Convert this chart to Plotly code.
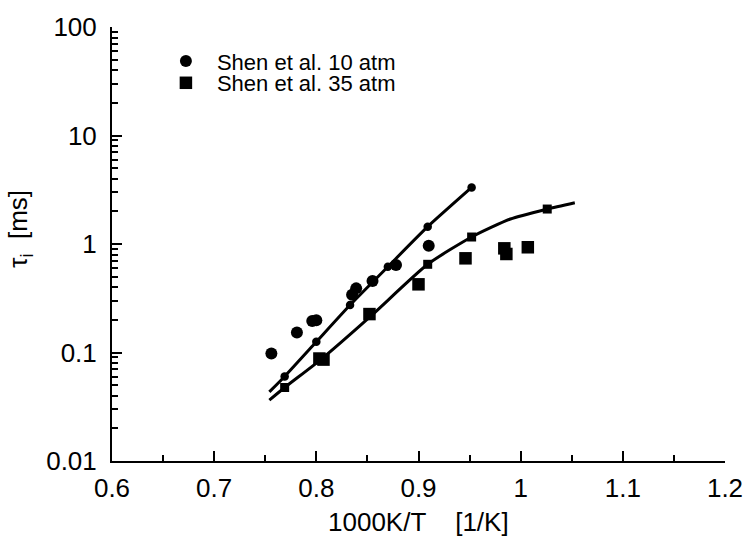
import plotly.graph_objects as go

# ---- data ----
# Shen et al. 10 atm (experimental, large circles)
shen10_x = [0.756, 0.781, 0.796, 0.800, 0.835, 0.839, 0.855, 0.878, 0.910]
shen10_y = [0.098, 0.153, 0.195, 0.198, 0.34, 0.39, 0.456, 0.64, 0.965]

# Shen et al. 35 atm (experimental, large squares)
shen35_x = [0.803, 0.807, 0.852, 0.900, 0.946, 0.984, 0.986, 1.007]
shen35_y = [0.088, 0.086, 0.226, 0.425, 0.738, 0.912, 0.809, 0.933]

# model curve, 10 atm
model10_x = [0.754, 0.769, 0.800, 0.833, 0.870, 0.909, 0.952]
model10_y = [0.0434, 0.0602, 0.1255, 0.274, 0.617, 1.444, 3.32]
# model points shown with small circles
model10_pts_x = [0.769, 0.800, 0.833, 0.870, 0.909, 0.952]
model10_pts_y = [0.0602, 0.1255, 0.274, 0.617, 1.444, 3.32]

# model curve, 35 atm
model35_x = [0.754, 0.769, 0.805, 0.853, 0.909, 0.952, 0.990, 1.026, 1.053]
model35_y = [0.0364, 0.0476, 0.087, 0.215, 0.650, 1.16, 1.70, 2.10, 2.40]
model35_pts_x = [0.769, 0.909, 0.952, 1.026]
model35_pts_y = [0.0476, 0.650, 1.16, 2.10]

x_ticks = [0.6, 0.7, 0.8, 0.9, 1.0, 1.1, 1.2]
x_ticktext = ["0.6", "0.7", "0.8", "0.9", "1", "1.1", "1.2"]
y_ticks = [0.01, 0.1, 1, 10, 100]
y_ticktext = ["0.01", "0.1", "1", "10", "100"]

FONT = "Arial, 'Liberation Sans', sans-serif"
BLACK = "#000000"

y_minor = [m * 10 ** e for e in range(-2, 2) for m in range(2, 10)]

fig = go.Figure()

fig.add_trace(go.Scatter(x=model10_x, y=model10_y, mode="lines",
                         line=dict(color=BLACK, width=3, shape="spline", smoothing=0.5),
                         showlegend=False, hoverinfo="skip"))
fig.add_trace(go.Scatter(x=model10_pts_x, y=model10_pts_y, mode="markers",
                         marker=dict(symbol="circle", size=8.5, color=BLACK),
                         showlegend=False))
fig.add_trace(go.Scatter(x=model35_x, y=model35_y, mode="lines",
                         line=dict(color=BLACK, width=3, shape="spline", smoothing=0.6),
                         showlegend=False, hoverinfo="skip"))
fig.add_trace(go.Scatter(x=model35_pts_x, y=model35_pts_y, mode="markers",
                         marker=dict(symbol="square", size=9, color=BLACK),
                         showlegend=False))

fig.add_trace(go.Scatter(x=shen10_x, y=shen10_y, mode="markers",
                         name="Shen et al. 10 atm",
                         marker=dict(symbol="circle", size=12, color=BLACK),
                         legend="legend"))
fig.add_trace(go.Scatter(x=shen35_x, y=shen35_y, mode="markers",
                         name="Shen et al. 35 atm",
                         marker=dict(symbol="square", size=12.5, color=BLACK),
                         legend="legend2"))

axis_common = dict(
    showline=True, linecolor=BLACK, linewidth=2, mirror=False,
    ticks="inside", ticklen=10, tickwidth=2, tickcolor=BLACK,
    showgrid=False, zeroline=False, automargin=False,
    tickfont=dict(family=FONT, size=26, color=BLACK),
)

leg_common = dict(font=dict(family=FONT, size=22, color=BLACK),
                  bgcolor="rgba(0,0,0,0)", borderwidth=0,
                  xanchor="left", yanchor="middle", itemwidth=52)

fig.update_layout(
    width=745, height=540,
    margin=dict(l=112, r=20, t=27, b=79, autoexpand=False),
    paper_bgcolor="white", plot_bgcolor="white",
    font=dict(family=FONT, color=BLACK),
    xaxis=dict(range=[0.6, 1.2], tickvals=x_ticks, ticktext=x_ticktext,
               minor=dict(dtick=0.05, ticks="inside", ticklen=6, tickwidth=2, tickcolor=BLACK),
               ticklabelstandoff=3,
               **axis_common),
    yaxis=dict(type="log", range=[-2, 2], tickvals=y_ticks, ticktext=y_ticktext,
               minor=dict(tickvals=y_minor, ticks="inside", ticklen=6, tickwidth=2, tickcolor=BLACK),
               ticklabelstandoff=8,
               **axis_common),
    legend=dict(x=0.07, y=0.921, **leg_common),
    legend2=dict(x=0.07, y=0.871, **leg_common),
    annotations=[
        dict(text="τ<sub>i</sub>\u00a0\u00a0[ms]", textangle=-90,
             xref="paper", yref="paper", x=-0.15, y=0.535,
             xanchor="center", yanchor="middle", showarrow=False,
             font=dict(family=FONT, size=26, color=BLACK)),
        dict(text="1000K/T\u00a0\u00a0\u00a0\u00a0[1/K]",
             xref="paper", yref="paper", x=0.5, y=-0.1406,
             xanchor="center", yanchor="middle", showarrow=False,
             font=dict(family=FONT, size=26, color=BLACK)),
    ],
)

fig.write_html("out.html",
               config={"displayModeBar": False},
               post_script="document.body.style.margin='0';document.body.style.padding='0';")
